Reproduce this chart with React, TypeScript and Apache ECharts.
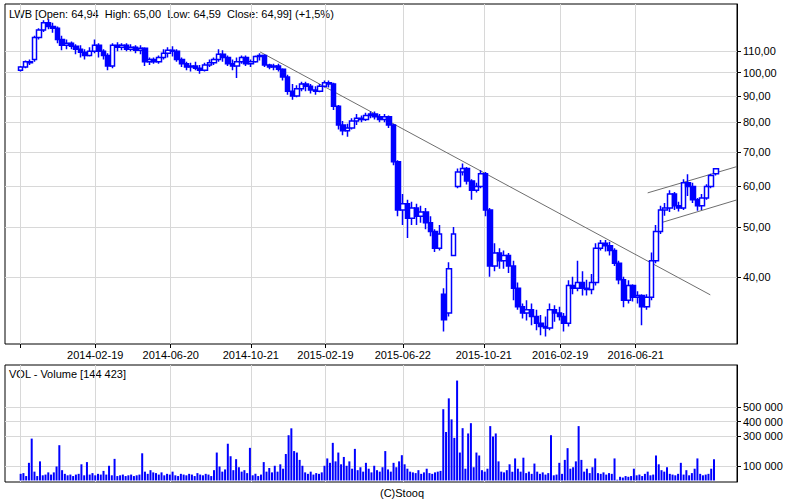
import React, { useEffect, useRef } from 'react';
import * as echarts from 'echarts';

// ---- data ----
// trading-day axis: day index 0..795; first session at day 17
const DAY_COUNT = 796;
const FIRST_DAY = 17;
const CANDLE_STEP = 5; // each candle summarises 5 sessions
const VOL_STEP = 3; // each volume bar summarises 3 sessions

const gridDays = [17, 98, 180, 267, 348, 432, 520, 603, 685];
const gridLabels = ['', '2014-02-19', '2014-06-20', '2014-10-21', '2015-02-19', '2015-06-22', '2015-10-21', '2016-02-19', '2016-06-21'];

const priceTicks = [40, 50, 60, 70, 80, 90, 100, 110];
const volumeTicks = [100000, 300000, 400000, 500000];

// [open, close, low, high]
const candles2013_14 = [
  [101.0, 102.5, 100.5, 103.0], [102.5, 105.0, 102.0, 105.5], [105.0, 104.5, 103.5, 106.0], [106.0, 117.0, 105.0, 118.0],
  [117.0, 121.0, 116.0, 122.0], [121.0, 125.0, 120.0, 126.5], [125.0, 123.0, 121.5, 127.0], [123.0, 122.0, 119.5, 125.0],
  [122.0, 116.0, 114.0, 123.0], [116.0, 113.0, 110.5, 118.0], [113.0, 114.0, 111.0, 116.0], [114.0, 112.5, 111.0, 115.0],
  [112.5, 111.0, 108.5, 113.5], [111.0, 109.5, 107.0, 113.0], [109.5, 108.0, 106.0, 111.0], [108.0, 110.0, 107.5, 112.0],
  [110.0, 113.0, 109.0, 116.0], [113.0, 110.0, 107.0, 114.0], [110.0, 108.0, 106.0, 111.0], [108.0, 103.0, 101.0, 109.0],
  [103.0, 113.0, 102.0, 114.0], [113.0, 112.0, 110.0, 114.5], [112.0, 113.0, 110.5, 114.0], [113.0, 111.0, 110.0, 114.0],
  [111.0, 112.0, 110.0, 113.5], [112.0, 110.5, 109.0, 113.0], [110.5, 111.5, 108.5, 113.0], [111.5, 105.0, 103.0, 112.0],
  [105.0, 106.0, 103.5, 107.0], [106.0, 105.0, 104.0, 107.0], [105.0, 107.0, 104.0, 108.0], [107.0, 109.0, 106.0, 111.0],
  [109.0, 110.5, 107.0, 112.0], [110.5, 110.0, 107.5, 112.5], [110.0, 106.0, 105.0, 111.0], [106.0, 104.0, 102.5, 107.0],
  [104.0, 102.5, 101.0, 105.0], [102.5, 103.0, 100.5, 104.5], [103.0, 102.0, 101.0, 105.0], [102.0, 101.0, 99.5, 103.5],
  [101.0, 103.5, 100.5, 104.5], [103.5, 104.5, 102.5, 106.0], [104.5, 106.0, 103.5, 107.0], [106.0, 108.5, 105.0, 111.0],
  [108.5, 107.0, 105.0, 110.5], [107.0, 104.0, 103.0, 108.0], [104.0, 103.0, 101.0, 106.0], [103.0, 105.0, 97.6, 107.0],
  [105.0, 107.0, 104.0, 108.0], [107.0, 104.0, 103.0, 108.0], [104.0, 105.0, 102.5, 106.0]
];
const candles2015 = [
  [105.0, 107.5, 104.5, 108.0], [107.5, 108.0, 105.5, 109.0], [108.0, 103.5, 102.5, 108.5], [103.5, 102.5, 101.5, 104.0],
  [102.5, 103.0, 101.0, 104.0], [103.0, 101.5, 100.5, 104.0], [101.5, 98.0, 96.5, 102.0], [98.0, 92.0, 90.5, 99.0],
  [92.0, 90.0, 88.5, 95.0], [90.0, 93.0, 89.5, 94.5], [93.0, 95.0, 92.0, 96.0], [95.0, 94.0, 92.0, 96.0],
  [94.0, 92.5, 91.0, 95.0], [92.5, 92.0, 90.5, 94.0], [92.0, 94.0, 91.5, 95.0], [94.0, 95.5, 93.5, 96.5],
  [95.5, 95.0, 93.5, 96.5], [95.0, 86.0, 84.5, 95.5], [86.0, 79.0, 77.5, 86.5], [79.0, 77.0, 75.5, 80.5],
  [77.0, 78.0, 75.0, 79.5], [78.0, 80.5, 77.5, 81.5], [80.5, 81.5, 79.0, 83.0], [81.5, 81.0, 80.0, 82.5],
  [81.0, 82.5, 80.5, 83.5], [82.5, 83.0, 81.5, 84.0], [83.0, 82.0, 81.0, 84.0], [82.0, 81.0, 80.0, 83.0],
  [81.0, 82.0, 80.0, 83.0], [82.0, 79.0, 78.0, 82.5], [79.0, 67.0, 66.0, 79.5], [67.0, 54.0, 52.5, 67.5],
  [54.0, 55.5, 50.5, 58.0], [55.5, 52.0, 47.6, 56.5], [52.0, 54.5, 50.5, 56.0], [54.5, 52.5, 50.5, 55.5],
  [52.5, 53.5, 51.0, 55.0], [53.5, 51.0, 49.5, 54.5], [51.0, 49.0, 48.0, 52.5], [49.0, 45.5, 44.7, 49.5],
  [45.5, 48.5, 45.0, 50.5], [37.0, 33.0, 31.3, 38.0], [34.0, 41.5, 33.5, 42.7], [44.0, 48.5, 44.0, 50.0],
  [60.0, 64.0, 59.5, 65.0], [64.0, 65.0, 63.0, 66.5], [65.0, 61.5, 60.5, 65.5], [61.5, 59.0, 56.5, 62.0],
  [59.0, 60.0, 58.4, 61.0], [60.0, 63.5, 59.5, 64.5]
];
const candles2016 = [
  [63.5, 54.0, 52.5, 64.0], [54.0, 42.0, 40.0, 54.5], [42.0, 44.5, 41.0, 46.5], [44.5, 43.0, 41.5, 45.5],
  [43.0, 44.0, 41.5, 45.0], [44.0, 42.0, 40.7, 44.5], [42.0, 38.0, 36.0, 43.0], [38.0, 35.0, 34.5, 39.0],
  [35.0, 34.0, 33.2, 35.5], [34.0, 34.5, 32.9, 36.0], [34.5, 33.5, 32.2, 35.5], [33.5, 32.5, 31.5, 34.5],
  [32.5, 32.0, 30.8, 33.7], [32.0, 31.8, 30.6, 33.5], [31.8, 34.5, 31.5, 35.5], [34.5, 34.0, 32.7, 35.2],
  [34.0, 33.5, 32.9, 35.0], [33.5, 32.5, 31.3, 34.0], [32.5, 38.5, 32.0, 39.4], [38.5, 38.0, 37.0, 40.0],
  [38.0, 39.0, 37.5, 43.0], [39.0, 38.0, 36.8, 41.0], [38.0, 37.8, 36.8, 39.5], [37.8, 39.0, 37.0, 40.5],
  [39.0, 45.5, 38.5, 46.5], [45.5, 46.5, 45.0, 47.2], [46.5, 46.0, 44.8, 47.2], [46.0, 45.0, 44.0, 46.8],
  [45.0, 42.5, 42.0, 45.5], [42.5, 39.5, 38.7, 43.0], [39.5, 36.0, 34.9, 40.0], [36.0, 38.5, 35.5, 39.4],
  [38.5, 36.5, 35.8, 38.7], [36.5, 36.8, 35.5, 37.5], [36.8, 35.0, 32.2, 37.0], [35.0, 36.5, 34.5, 37.0],
  [36.5, 43.0, 36.0, 44.6], [43.0, 49.0, 42.5, 50.5], [49.0, 54.0, 48.5, 55.0], [54.0, 54.5, 52.6, 55.7],
  [54.5, 58.0, 53.5, 59.0], [58.0, 55.0, 54.0, 58.5], [55.0, 54.5, 53.6, 56.0], [54.5, 61.0, 54.0, 62.0],
  [61.0, 60.0, 57.5, 63.4], [60.0, 56.5, 55.7, 61.0], [56.5, 55.0, 53.8, 57.0], [55.0, 57.0, 54.0, 58.0],
  [57.0, 60.0, 56.5, 60.6], [60.0, 63.0, 59.5, 63.5], [63.5, 64.99, 63.0, 65.0]
];

// volume, thousands of shares
const volume2013_14 = [
  45, 50, 30, 120, 285, 60, 30, 130, 35, 40,
  55, 40, 55, 95, 240, 70, 45, 35, 40, 30,
  40, 45, 110, 35, 125, 40, 50, 35, 45, 40,
  65, 40, 100, 35, 147, 30, 35, 40, 30, 35,
  40, 30, 35, 40, 185, 60, 45, 70, 55, 50,
  40, 55, 35, 45, 40, 60, 35, 30, 45, 40,
  35, 45, 40, 30, 50, 40, 35, 45, 40, 30,
  70, 190, 95, 60, 75, 250, 165, 70, 145, 90,
  60, 70, 50, 222, 35, 45, 30, 40, 125, 60
];
const volume2015 = [
  85, 55, 100, 60, 110, 80, 180, 308, 355, 200,
  190, 140, 100, 55, 45, 60, 40, 50, 45, 55,
  100, 150, 120, 256, 130, 190, 110, 160, 100, 130,
  80, 215, 70, 90, 60, 120, 80, 55, 100, 70,
  60, 90, 200, 75, 60, 120, 90, 130, 172, 110,
  80, 60, 55, 50, 70, 45, 55, 80, 50, 45,
  55, 60, 65, 485, 330, 559, 416, 290, 680, 190,
  356, 80, 320, 390, 90, 190, 170, 70, 60, 80,
  370, 300, 320, 130, 60, 55, 70, 110, 60, 150
];
const volume2016 = [
  80, 60, 155, 50, 60, 45, 115, 60, 45, 55,
  40, 50, 308, 35, 40, 120, 45, 140, 220, 80,
  90, 130, 370, 140, 60, 80, 50, 90, 150, 50,
  45, 55, 40, 50, 45, 150, 5, 25, 20, 30,
  25, 30, 80, 35, 40, 30, 45, 60, 35, 40,
  170, 110, 70, 60, 90, 45, 40, 35, 45, 120,
  40, 70, 35, 50, 80, 150, 45, 35, 40, 45,
  80, 144.423
];

// trend lines drawn on the chart: [day index, price]
const trendDown = [[277, 109.7], [766, 36.9]];
const channelUpper = [[698, 58.3], [795, 65.6]];
const channelLower = [[711, 50.9], [795, 56.5]];

const titleText = 'LWB [Open: 64,94  High: 65,00  Low: 64,59  Close: 64,99] (+1,5%)';
const volumeTitle = 'VOL - Volume [144 423]';
const creditText = '(C)Stooq';

// ---- chart ----
const FONT = 'Liberation Sans, Arial, sans-serif';
const BLUE = '#0000ff';
const GRID_COLOR = '#d8d8d8';

export default function App() {
  const ref = useRef<HTMLDivElement>(null);
  useEffect(() => {
    const el = ref.current;
    if (!el) return;
    const chart = echarts.init(el, null, { renderer: 'svg' });

    const categories = Array.from({ length: DAY_COUNT }, (_, i) => String(i));
    const gridSet = new Set(gridDays);
    const labelMap: Record<string, string> = {};
    gridDays.forEach((d, i) => (labelMap[String(d)] = gridLabels[i]));
    const isGrid = (index: number) => gridSet.has(index);

    const candles = [...candles2013_14, ...candles2015, ...candles2016].map((c, k) => [
      FIRST_DAY + k * CANDLE_STEP,
      c[0], c[1], c[2], c[3]
    ]);
    const volumes = [...volume2013_14, ...volume2015, ...volume2016].map((v, k) => [
      FIRST_DAY + k * VOL_STEP,
      v * 1000
    ]);

    const xAxisBase = (gridIndex: number, showLabels: boolean) => ({
      type: 'category',
      gridIndex,
      data: categories,
      boundaryGap: false,
      axisLine: { show: false },
      axisTick: {
        show: showLabels,
        interval: isGrid,
        length: 4,
        lineStyle: { color: '#000' }
      },
      axisLabel: {
        show: showLabels,
        interval: isGrid,
        formatter: (v: string) => labelMap[v] ?? '',
        color: '#000',
        fontSize: 11,
        fontFamily: FONT,
        margin: 5
      },
      splitLine: { show: true, interval: isGrid, lineStyle: { color: GRID_COLOR, width: 1 } }
    });

    const fmtPrice = (v: number) => v.toFixed(2).replace('.', ',');
    const fmtVol = (v: number) => String(Math.round(v)).replace(/\B(?=(\d{3})+(?!\d))/g, ' ');

    const lineSeries = (data: number[][]) => ({
      type: 'line',
      xAxisIndex: 0,
      yAxisIndex: 0,
      data,
      symbol: 'none',
      silent: true,
      z: 3,
      lineStyle: { color: '#6e6e6e', width: 1 }
    });

    chart.setOption({
      animation: false,
      backgroundColor: '#fff',
      grid: [
        { left: 5, top: 4, width: 732, height: 340, show: true, borderColor: '#000', borderWidth: 1, backgroundColor: '#fff' },
        { left: 5, top: 365, width: 732, height: 117, show: true, borderColor: '#000', borderWidth: 1, backgroundColor: '#fff' }
      ],
      xAxis: [xAxisBase(0, true), xAxisBase(1, false)],
      yAxis: [
        {
          type: 'log',
          gridIndex: 0,
          position: 'right',
          min: 29.6,
          max: 136,
          axisLine: { show: true, lineStyle: { color: '#000' } },
          axisTick: { show: true, length: 4, customValues: priceTicks, lineStyle: { color: '#000' } },
          axisLabel: { customValues: priceTicks, formatter: fmtPrice, color: '#000', fontSize: 11, fontFamily: FONT, margin: 6 },
          splitLine: { show: true, lineStyle: { color: GRID_COLOR } },
          minorTick: { show: false }
        },
        {
          type: 'value',
          gridIndex: 1,
          position: 'right',
          min: -10500,
          max: 786000,
          axisLine: { show: true, lineStyle: { color: '#000' } },
          axisTick: { show: true, length: 4, customValues: volumeTicks, lineStyle: { color: '#000' } },
          axisLabel: { customValues: volumeTicks, formatter: fmtVol, color: '#000', fontSize: 11, fontFamily: FONT, margin: 6 },
          splitLine: { show: true, lineStyle: { color: GRID_COLOR } }
        }
      ],
      series: [
        {
          type: 'candlestick',
          xAxisIndex: 0,
          yAxisIndex: 0,
          data: candles,
          encode: { x: 0, y: [1, 2, 3, 4] },
          barWidth: 5,
          z: 4,
          itemStyle: {
            color: '#fff',
            color0: BLUE,
            borderColor: BLUE,
            borderColor0: BLUE,
            borderWidth: 1.5
          }
        },
        lineSeries(trendDown),
        lineSeries(channelUpper),
        lineSeries(channelLower),
        {
          type: 'bar',
          xAxisIndex: 1,
          yAxisIndex: 1,
          data: volumes,
          barWidth: 2,
          itemStyle: { color: BLUE }
        }
      ],
      graphic: [
        { type: 'text', left: 9, top: 8, style: { text: titleText, fill: '#000', font: `11px ${FONT}` } },
        { type: 'text', left: 9, top: 368, style: { text: volumeTitle, fill: '#000', font: `11px ${FONT}` } },
        { type: 'text', left: 380, top: 487, style: { text: creditText, fill: '#000', font: `11px ${FONT}` } }
      ]
    });

    return () => chart.dispose();
  }, []);

  return (
    <div
      ref={ref}
      style={{ position: 'fixed', left: 0, top: 0, width: 800, height: 500, background: '#fff' }}
    />
  );
}
